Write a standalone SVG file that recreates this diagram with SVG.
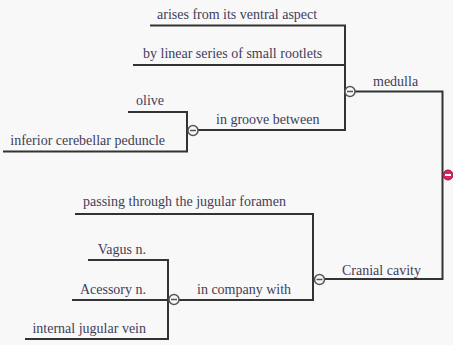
<svg xmlns="http://www.w3.org/2000/svg" width="453" height="345" viewBox="0 0 453 345">
  <style>
    .lbl { font-family: "Liberation Serif", "DejaVu Serif", serif; font-size: 14px; fill: #3e3e58; }
    .end { text-anchor: end; }
    .wire { fill: none; stroke: #333; stroke-width: 2; }
    .knob { fill: #f8f8f8; stroke: #555; stroke-width: 1.5; }
    .knob-mark { stroke: #555; stroke-width: 1.5; }
    .root { fill: #d6226a; stroke: #a8124e; stroke-width: 1; }
    .root-mark { stroke: #fff; stroke-width: 2; }
  </style>
  <rect width="453" height="345" fill="#f8f8f8"/>

  <!-- connectors -->
  <g id="connectors">
    <!-- medulla branch -->
    <path class="wire" d="M150 25.5 H345 V130 H198"/>
    <path class="wire" d="M133 65 H345"/>
    <path class="wire" d="M355 91.5 H442.5 V279 H325"/>
    <!-- olive / peduncle pair -->
    <path class="wire" d="M128 112 H187 V151.5 H3"/>
    <!-- cranial cavity branch -->
    <path class="wire" d="M75 214 H313 V300 H179"/>
    <!-- vessels and nerves -->
    <path class="wire" d="M88 260 H168 V339 H25"/>
    <path class="wire" d="M72 300 H168"/>
  </g>

  <g id="root">
    <circle class="root" cx="448" cy="175" r="5"/>
    <line class="root-mark" x1="445" y1="175" x2="451" y2="175"/>
  </g>

  <g id="medulla">
    <text class="lbl" x="373" y="86">medulla</text>
    <circle class="knob" cx="350" cy="91.5" r="5"/>
    <line class="knob-mark" x1="347" y1="91.5" x2="353" y2="91.5"/>
  </g>

  <g id="ventral-aspect">
    <text class="lbl" x="157" y="18.5">arises from its ventral aspect</text>
  </g>

  <g id="rootlets">
    <text class="lbl" x="143" y="58">by linear series of small rootlets</text>
  </g>

  <g id="groove">
    <text class="lbl" x="216" y="123.5">in groove between</text>
    <circle class="knob" cx="193" cy="130.5" r="5"/>
    <line class="knob-mark" x1="190" y1="130.5" x2="196" y2="130.5"/>
  </g>

  <g id="olive">
    <text class="lbl end" x="164" y="105">olive</text>
  </g>

  <g id="peduncle">
    <text class="lbl end" x="165" y="145">inferior cerebellar peduncle</text>
  </g>

  <g id="cranial-cavity">
    <text class="lbl" x="342" y="274.5">Cranial cavity</text>
    <circle class="knob" cx="319.5" cy="279.5" r="5"/>
    <line class="knob-mark" x1="316.5" y1="279.5" x2="322.5" y2="279.5"/>
  </g>

  <g id="jugular-foramen">
    <text class="lbl" x="83" y="206">passing through the jugular foramen</text>
  </g>

  <g id="company">
    <text class="lbl" x="197" y="293.5">in company with</text>
    <circle class="knob" cx="174" cy="299.5" r="5"/>
    <line class="knob-mark" x1="171" y1="299.5" x2="177" y2="299.5"/>
  </g>

  <g id="vagus">
    <text class="lbl end" x="146" y="254">Vagus n.</text>
  </g>

  <g id="accessory">
    <text class="lbl end" x="146" y="293.5">Acessory n.</text>
  </g>

  <g id="jugular-vein">
    <text class="lbl end" x="146" y="333">internal jugular vein</text>
  </g>
</svg>
